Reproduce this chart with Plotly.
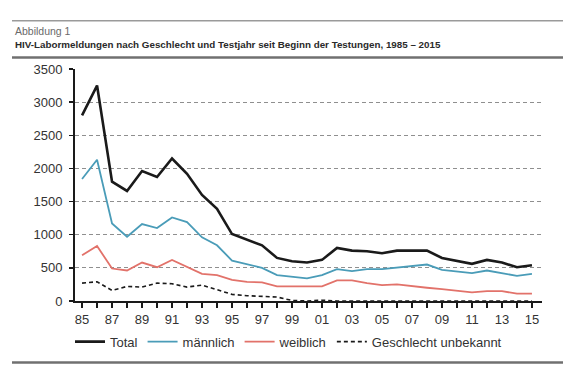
import plotly.graph_objects as go

years = list(range(1985, 2016))
total = [2800, 3250, 1800, 1660, 1960, 1870, 2150, 1920, 1600, 1390,
         1010, 920, 840, 650, 600, 580, 620, 800, 760, 750,
         720, 760, 760, 760, 650, 600, 560, 620, 580, 510, 540]
maennlich = [1840, 2130, 1170, 970, 1160, 1100, 1260, 1190, 960, 840,
             610, 560, 500, 390, 370, 340, 390, 480, 450, 480,
             480, 500, 520, 550, 470, 440, 420, 460, 420, 380, 410]
weiblich = [690, 830, 490, 460, 580, 510, 620, 510, 410, 390,
            320, 290, 280, 220, 220, 210, 220, 310, 310, 270,
            240, 250, 220, 200, 180, 160, 130, 150, 150, 110, 110]
unbekannt = [270, 290, 160, 220, 210, 270, 260, 210, 240, 170,
             100, 80, 75, 60, 8, 0, 12, 0, 0, 0,
             0, 0, 6, 0, 0, 0, 0, 0, 0, 0, 0]
x_tick_vals = list(range(1985, 2016, 2))
x_tick_labels = ["85", "87", "89", "91", "93", "95", "97", "99", "01", "03",
                 "05", "07", "09", "11", "13", "15"]
y_tick_vals = [0, 500, 1000, 1500, 2000, 2500, 3000, 3500]
series_names = ["Total", "männlich", "weiblich", "Geschlecht unbekannt"]
title_small = "Abbildung 1"
title_main = "HIV-Labormeldungen nach Geschlecht und Testjahr seit Beginn der Testungen, 1985 – 2015"

FONT = "Liberation Sans, Arial, sans-serif"
NARROW = "Liberation Sans Narrow, Arial Narrow, sans-serif"

fig = go.Figure()
fig.add_trace(go.Scatter(x=years, y=total, mode="lines", name=series_names[0],
                         line=dict(color="#1a1a1a", width=2.6)))
fig.add_trace(go.Scatter(x=years, y=maennlich, mode="lines", name=series_names[1],
                         line=dict(color="#4a9cb8", width=1.8)))
fig.add_trace(go.Scatter(x=years, y=weiblich, mode="lines", name=series_names[2],
                         line=dict(color="#e2726a", width=1.8)))
fig.add_trace(go.Scatter(x=years, y=unbekannt, mode="lines", name=series_names[3],
                         line=dict(color="#1a1a1a", width=1.6, dash="4px,3px")))

L, R, T, B = 75, 40, 69, 71
W, H = 582, 372
pw, ph = W - L - R, H - T - B


def px_x(p):
    return (p - L) / pw


def px_y(p):
    return (H - B - p) / ph


fig.update_layout(
    width=W, height=H,
    margin=dict(l=L, r=R, t=T, b=B),
    paper_bgcolor="white", plot_bgcolor="white",
    font=dict(family=FONT, size=13, color="#333333"),
    showlegend=True,
    hovermode=False,
    legend=dict(orientation="h", x=px_x(70), xanchor="left",
                y=px_y(341.7), yanchor="middle",
                font=dict(family=FONT, size=13, color="#333333"),
                bgcolor="rgba(0,0,0,0)", traceorder="normal"),
    xaxis=dict(range=[1984.53, 2015.67], tickmode="array",
               tickvals=x_tick_vals, ticktext=x_tick_labels,
               ticks="outside", ticklen=5, tickwidth=1.5, tickcolor="#1a1a1a",
               minor=dict(dtick=1, tick0=1985, ticks="outside", ticklen=5,
                          tickwidth=1.5, tickcolor="#1a1a1a", showgrid=False),
               showline=True, linecolor="#1a1a1a", linewidth=2,
               showgrid=False, zeroline=False,
               tickfont=dict(family=FONT, size=13, color="#333333")),
    yaxis=dict(range=[0, 3500.01], tickmode="array", tickvals=y_tick_vals,
               ticks="outside", ticklen=4, tickwidth=1.5, tickcolor="#1a1a1a",
               showline=True, linecolor="#1a1a1a", linewidth=2,
               showgrid=True, gridcolor="#8f8f8f", gridwidth=1, griddash="4px,3px",
               zeroline=False, ticklabelstandoff=4,
               tickfont=dict(family=FONT, size=13, color="#333333")),
)

fig.add_shape(type="line", xref="paper", yref="paper",
              x0=px_x(12), x1=px_x(563), y0=px_y(20.7), y1=px_y(20.7),
              line=dict(color="#9a9a9a", width=1.5))
fig.add_shape(type="line", xref="paper", yref="paper",
              x0=px_x(12), x1=px_x(563), y0=px_y(57.5), y1=px_y(57.5),
              line=dict(color="#707070", width=2.5))
fig.add_shape(type="line", xref="paper", yref="paper",
              x0=px_x(12), x1=px_x(563), y0=px_y(362.5), y1=px_y(362.5),
              line=dict(color="#707070", width=2.5))

fig.add_annotation(xref="paper", yref="paper", x=px_x(13), y=px_y(31),
                   xanchor="left", yanchor="middle", showarrow=False,
                   text=title_small,
                   font=dict(family=NARROW, size=10.5, color="#6a6a6a"))
fig.add_annotation(xref="paper", yref="paper", x=px_x(13), y=px_y(44.5),
                   xanchor="left", yanchor="middle", showarrow=False,
                   text="<b>" + title_main + "</b>",
                   font=dict(family=NARROW, size=9.8, color="#2a2a2a"))

fig.write_html("out.html",
               config={"displayModeBar": False, "staticPlot": True},
               post_script="document.body.style.margin='0';document.body.style.padding='0';")
